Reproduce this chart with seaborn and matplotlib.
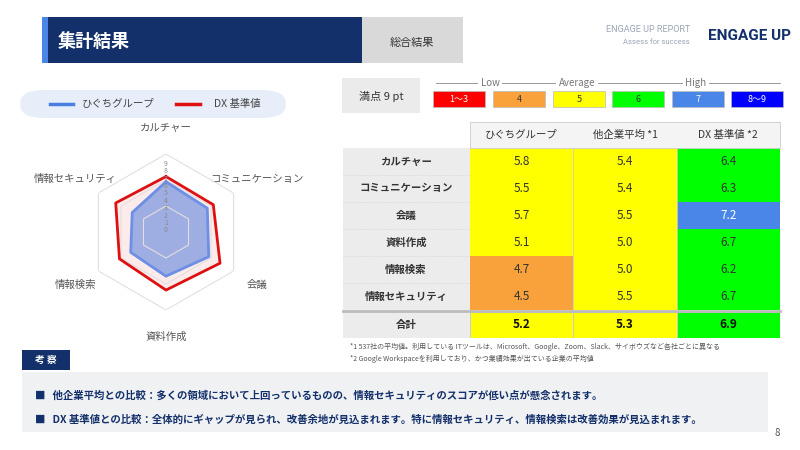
import numpy as np
import matplotlib
matplotlib.use("Agg")
import matplotlib.pyplot as plt
from matplotlib.patches import Rectangle, FancyBboxPatch
from matplotlib.colors import ListedColormap, BoundaryNorm
import seaborn as sns

plt.rcParams["font.family"] = "Noto Sans CJK JP"

categories = ["カルチャー", "コミュニケーション", "会議", "資料作成", "情報検索", "情報セキュリティ"]
columns = ["ひぐちグループ", "他企業平均 *1", "DX 基準値 *2"]
higuchi = [5.8, 5.5, 5.7, 5.1, 4.7, 4.5]
others = [5.4, 5.4, 5.5, 5.0, 5.0, 5.5]
dx = [6.4, 6.3, 7.2, 6.7, 6.2, 6.7]
totals = [5.2, 5.3, 6.9]
scale_labels = ["1〜3", "4", "5", "6", "7", "8〜9"]
scale_colors = ["#ff0000", "#f9a23c", "#ffff00", "#00ff00", "#4a86e8", "#0000ff"]
bounds = [1, 4, 5, 6, 7, 8, 10]

W, H = 800, 450
fig = plt.figure(figsize=(8, 4.5), dpi=100)
fig.patch.set_facecolor("white")

def fx(x): return x / W
def fy(y): return 1 - y / H

def rect(x0, y0, x1, y1, color, **kw):
    fig.patches.append(Rectangle((fx(x0), fy(y1)), fx(x1 - x0), (y1 - y0) / H,
                                 transform=fig.transFigure, facecolor=color, **kw))

def txt(x, y, s, **kw):
    fig.text(fx(x), fy(y), s, **kw)

# header
rect(42, 17, 362, 63, "#13306b", edgecolor="none")
rect(42, 17, 48, 63, "#4a86e8", edgecolor="none")
rect(362, 17, 463, 63, "#d9d9d9", edgecolor="none")
txt(58, 41, "集計結果", color="white", fontsize=13, fontweight="bold", va="center")
txt(412, 43, "総合結果", color="#333333", fontsize=8, ha="center", va="center")
txt(690, 30, "ENGAGE UP REPORT", color="#9aa4b5", fontsize=6.5, ha="right", va="center", family="Roboto")
txt(690, 42, "Assess for success", color="#9aa4b5", fontsize=5.5, ha="right", va="center", family="Roboto")
txt(750, 36, "ENGAGE UP", color="#13306b", fontsize=11, fontweight="bold", ha="center", va="center", family="Roboto")

# legend box
fig.patches.append(FancyBboxPatch((fx(20), fy(118)), fx(266), 28 / H, boxstyle="round,pad=0,rounding_size=0.03",
                                  transform=fig.transFigure, facecolor="#e8eef9", edgecolor="none"))
fig.lines.append(plt.Line2D([fx(50), fx(73)], [fy(104)] * 2, color="#4a7fe0", lw=2.5, transform=fig.transFigure))
txt(82, 104, "ひぐちグループ", fontsize=7.5, color="#444", va="center")
fig.lines.append(plt.Line2D([fx(176), fx(200)], [fy(104)] * 2, color="#e01010", lw=2.5, transform=fig.transFigure))
txt(214, 104, "DX 基準値", fontsize=7.5, color="#444", va="center")

# radar
cx, cy, r = 166, 232, 78
ax = fig.add_axes([fx(cx - r), fy(cy + r), fx(2 * r), 2 * r / H], projection="polar")
ax.set_theta_offset(np.pi / 2)
ax.set_theta_direction(-1)
ang = np.linspace(0, 2 * np.pi, len(categories), endpoint=False)
angc = np.append(ang, ang[0])
for lv in [3, 6, 9]:
    ax.plot(angc, [lv] * 7, color="#e6dede", lw=0.8)
ax.fill(angc, dx + dx[:1], color="#f4c7c7", alpha=0.35)
ax.plot(angc, dx + dx[:1], color="#dd1111", lw=2)
ax.fill(angc, higuchi + higuchi[:1], color="#7f9ae0", alpha=0.75)
ax.plot(angc, higuchi + higuchi[:1], color="#6d8fe6", lw=2)
ax.set_ylim(0, 9)
ax.set_xticks(ang)
ax.set_xticklabels(categories, fontsize=7.5, color="#555")
ax.tick_params(axis="x", pad=9)
ax.set_yticks([])
ax.grid(False)
ax.spines["polar"].set_visible(False)
for v in range(10):
    ax.text(0, v * 0.85 + 0.2, str(v), fontsize=5, color="#888", ha="center", va="center")

# scale legend
rect(342, 78, 420, 113, "#ebebeb", edgecolor="none")
txt(381, 96, "満点 9 pt", fontsize=8, ha="center", va="center", color="#333")
chip_x = [433, 493, 553, 612, 672, 731]
for x0, lab, c in zip(chip_x, scale_labels, scale_colors):
    rect(x0, 91, x0 + 52, 107, c, edgecolor="#bbbbbb", lw=0.5)
    txt(x0 + 26, 99, lab, fontsize=6.5, ha="center", va="center",
        color="white" if c in ("#ff0000", "#4a86e8", "#0000ff") else "#333")
fig.lines.append(plt.Line2D([fx(436), fx(780)], [fy(83)] * 2, color="#888", lw=0.6, transform=fig.transFigure))
for x0, lab in [(490, "Low"), (577, "Average"), (696, "High")]:
    fig.text(fx(x0), fy(83), lab, fontsize=7, ha="center", va="center", color="#777",
             bbox=dict(facecolor="white", edgecolor="none", pad=2))

# table
cmap = ListedColormap(scale_colors)
norm = BoundaryNorm(bounds, cmap.N)
data = np.array([higuchi, others, dx]).T
rect(343, 148, 470, 310, "#ececec", edgecolor="none")
rect(343, 312, 470, 338, "#ececec", edgecolor="none")
rect(470, 122, 780, 148, "#f4f4f4", edgecolor="#cccccc", lw=0.6)
axh = fig.add_axes([fx(470), fy(310), fx(310), 162 / H])
sns.heatmap(data, ax=axh, cmap=cmap, norm=norm, cbar=False, annot=True, fmt=".1f",
            annot_kws={"fontsize": 8.5, "color": "#333"}, xticklabels=False, yticklabels=False)
for t, v in zip(axh.texts, data.flatten()):
    if v >= 7:
        t.set_color("white")
axt = fig.add_axes([fx(470), fy(338), fx(310), 26 / H])
sns.heatmap(np.array([totals]), ax=axt, cmap=cmap, norm=norm, cbar=False, annot=True, fmt=".1f",
            annot_kws={"fontsize": 8.5, "color": "#111", "fontweight": "bold"},
            xticklabels=False, yticklabels=False, linewidths=0.6, linecolor="#cccccc")
for i in range(1, 3):
    axh.axvline(i, color="#cccccc", lw=0.6)
for i, c in enumerate(columns):
    txt(470 + 103.3 * (i + 0.5), 135, c, fontsize=7.5, ha="center", va="center", color="#333")
for i, c in enumerate(categories):
    txt(406, 148 + 27 * (i + 0.5), c, fontsize=7.5, ha="center", va="center", color="#333", fontweight="bold")
    if i:
        fig.lines.append(plt.Line2D([fx(343), fx(470)], [fy(148 + 27 * i)] * 2, color="#cccccc",
                                    lw=0.5, ls=":", transform=fig.transFigure))
txt(406, 325, "合計", fontsize=7.5, ha="center", va="center", color="#333", fontweight="bold")
fig.lines.append(plt.Line2D([fx(343), fx(780)], [fy(311)] * 2, color="#bbbbbb", lw=2, transform=fig.transFigure))
txt(350, 347, "*1 537社の平均値。利用している ITツールは、Microsoft、Google、Zoom、Slack、サイボウズなど各社ごとに異なる",
    fontsize=5, color="#555", va="center")
txt(350, 359, "*2 Google Workspaceを利用しており、かつ業績効果が出ている企業の平均値", fontsize=5, color="#555", va="center")

# bottom notes
rect(22, 350, 70, 370, "#13306b", edgecolor="none")
txt(46, 360, "考 察", fontsize=7, color="white", ha="center", va="center", fontweight="bold")
rect(22, 372, 768, 432, "#f0f1f3", edgecolor="none")
txt(35, 396, "■   他企業平均との比較：多くの領域において上回っているものの、情報セキュリティのスコアが低い点が懸念されます。",
    fontsize=7.5, color="#13306b", va="center", fontweight="bold")
txt(35, 420, "■   DX 基準値との比較：全体的にギャップが見られ、改善余地が見込まれます。特に情報セキュリティ、情報検索は改善効果が見込まれます。",
    fontsize=7.5, color="#13306b", va="center", fontweight="bold")
txt(777, 433, "8", fontsize=7, color="#555", ha="center", va="center")

fig.savefig("out.png", dpi=100)
